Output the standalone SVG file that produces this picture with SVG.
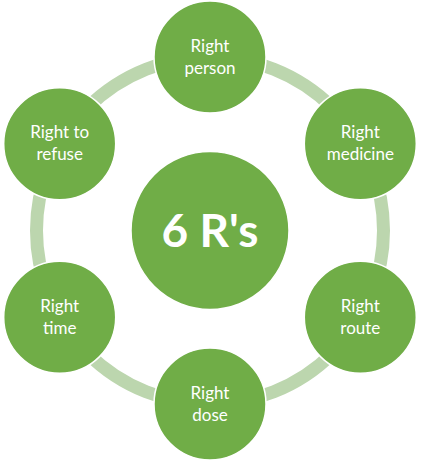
<svg xmlns="http://www.w3.org/2000/svg" width="423" height="461" viewBox="0 0 423 461">
<style>
.node{fill:#70AD47;stroke:#FFFFFF;stroke-width:1.5}
.lbl{font-family:Lato,"Open Sans","Liberation Sans",sans-serif;font-size:17px;fill:#FFFFFF;text-anchor:middle}
.big{font-family:Lato,"Open Sans","Liberation Sans",sans-serif;font-size:46px;font-weight:bold;fill:#FFFFFF;text-anchor:middle}
</style>
<rect width="423" height="461" fill="#FFFFFF"/>
<g id="connectors">
<circle cx="210" cy="230.5" r="173.5" fill="none" stroke="#BCD6AE" stroke-width="13"/>
</g>
<g id="center">
<circle class="node" cx="210" cy="230.5" r="79"/>
<text class="big" x="210" y="246.5">6 R's</text>
</g>
<g id="person">
<circle class="node" cx="210" cy="57" r="56"/>
<text class="lbl" x="210" y="51.5">Right</text>
<text class="lbl" x="210" y="73.5">person</text>
</g>
<g id="medicine">
<circle class="node" cx="360.3" cy="143.75" r="56"/>
<text class="lbl" x="360.3" y="138.25">Right</text>
<text class="lbl" x="360.3" y="160.25">medicine</text>
</g>
<g id="route">
<circle class="node" cx="360.3" cy="317.25" r="56"/>
<text class="lbl" x="360.3" y="311.75">Right</text>
<text class="lbl" x="360.3" y="333.75">route</text>
</g>
<g id="dose">
<circle class="node" cx="210" cy="404" r="56"/>
<text class="lbl" x="210" y="398.5">Right</text>
<text class="lbl" x="210" y="420.5">dose</text>
</g>
<g id="time">
<circle class="node" cx="59.7" cy="317.25" r="56"/>
<text class="lbl" x="59.7" y="311.75">Right</text>
<text class="lbl" x="59.7" y="333.75">time</text>
</g>
<g id="refuse">
<circle class="node" cx="59.7" cy="143.75" r="56"/>
<text class="lbl" x="59.7" y="138.25">Right to</text>
<text class="lbl" x="59.7" y="160.25">refuse</text>
</g>
</svg>
